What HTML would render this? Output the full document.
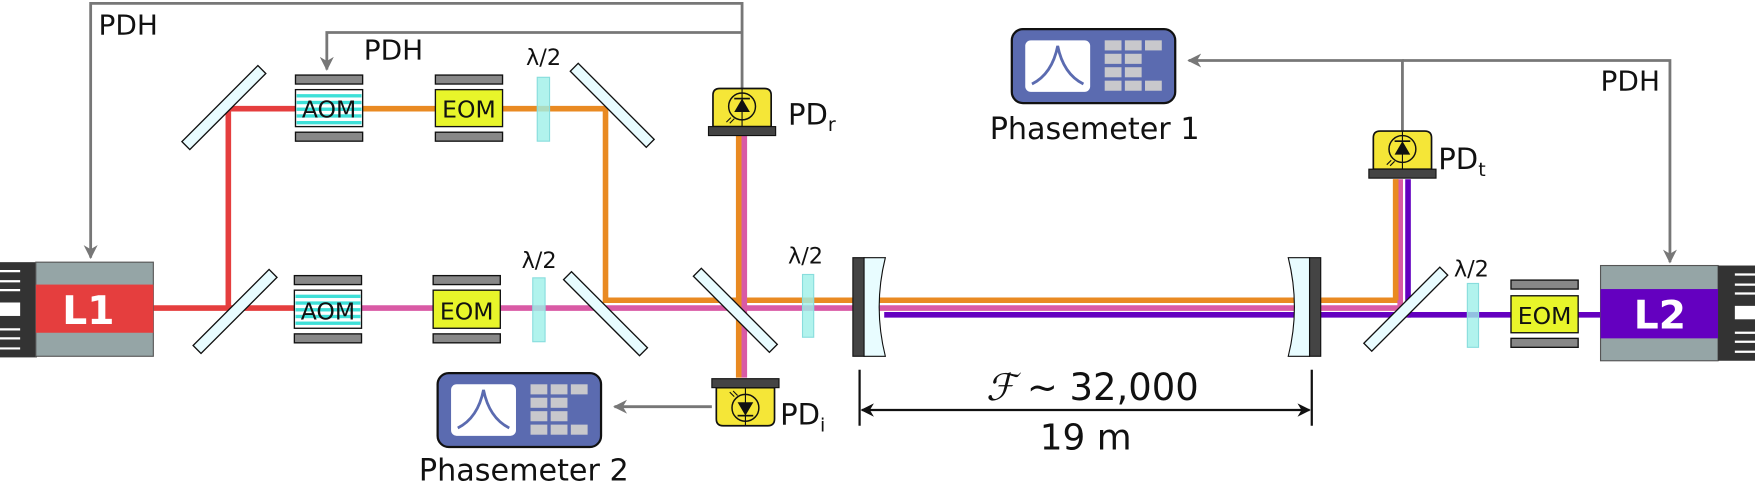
<!DOCTYPE html>
<html><head><meta charset="utf-8"><style>
html,body{margin:0;padding:0;background:#fff;}
svg{display:block;}
text{font-family:"DejaVu Sans","Liberation Sans",sans-serif;fill:#111;}
</style></head><body>
<svg width="1755" height="484" viewBox="0 0 1568 432" preserveAspectRatio="none" xmlns="http://www.w3.org/2000/svg">
<defs>
 <marker id="ah" viewBox="0 0 10 10" refX="9" refY="5" markerWidth="5" markerHeight="5" orient="auto-start-reverse"><path d="M0,0 L10,5 L0,10 L3,5 z" fill="#777"/></marker>
 <marker id="bh" viewBox="0 0 10 10" refX="9" refY="5" markerWidth="6" markerHeight="6" orient="auto-start-reverse"><path d="M0,0 L10,5 L0,10 L3,5 z" fill="#111"/></marker>
 <g id="pdup">
  <path d="M-26,34 V6 Q-26,0 -20,0 H20 Q26,0 26,6 V34 z" fill="#f5e637" stroke="#111" stroke-width="1.5"/>
  <circle cx="0" cy="16" r="12" fill="none" stroke="#111" stroke-width="1.3"/>
  <line x1="0" y1="0" x2="0" y2="34" stroke="#111" stroke-width="1"/>
  <path d="M-7,21 L7,21 L0,9 z" fill="#111"/><line x1="-7" y1="9" x2="7" y2="9" stroke="#111" stroke-width="1.5"/>
  <line x1="-14" y1="30" x2="-10" y2="26" stroke="#111"/><line x1="-11" y1="31" x2="-7" y2="27" stroke="#111"/>
  <rect x="-30" y="34" width="60" height="8" fill="#444" stroke="#111"/>
 </g>
 <g id="pm">
  <rect x="0" y="0" width="146" height="66" rx="10" fill="#5b6bb0" stroke="#111" stroke-width="2"/>
  <rect x="12" y="10" width="58" height="46" rx="5" fill="#fff"/>
  <path d="M18,49 Q36,40 41,15 Q46,40 64,49" fill="none" stroke="#5b6bb0" stroke-width="2.5"/>
  <g fill="#c8c8cc">
   <rect x="83" y="10" width="15" height="9"/><rect x="101" y="10" width="15" height="9"/><rect x="119" y="10" width="15" height="9"/>
   <rect x="83" y="22" width="15" height="9"/><rect x="101" y="22" width="15" height="9"/>
   <rect x="83" y="34" width="15" height="9"/><rect x="101" y="34" width="15" height="9"/>
   <rect x="83" y="46" width="15" height="9"/><rect x="101" y="46" width="15" height="9"/><rect x="119" y="46" width="15" height="9"/>
  </g>
 </g>
 <g id="comb">
  <rect x="0" y="0" width="33" height="85" fill="#333"/>
  <g stroke="#fff" stroke-width="2"><line x1="0" y1="8" x2="18" y2="8"/><line x1="0" y1="17" x2="18" y2="17"/><line x1="0" y1="25" x2="18" y2="25"/><line x1="0" y1="60" x2="18" y2="60"/><line x1="0" y1="68" x2="18" y2="68"/><line x1="0" y1="77" x2="18" y2="77"/></g>
  <rect x="0" y="36" width="18" height="12" fill="#fff"/>
 </g>
</defs>

<g stroke="#777" stroke-width="2.5" fill="none">
 <polyline points="663,80 663,3 81,3 81,230" marker-end="url(#ah)"/>
 <polyline points="663,29 292,29 292,62" marker-end="url(#ah)"/>
 <line x1="636" y1="363" x2="549" y2="363" marker-end="url(#ah)"/>
 <polyline points="1253,117 1253,54 1062,54" marker-end="url(#ah)"/>
 <polyline points="1253,54 1492,54 1492,234" marker-end="url(#ah)"/>
</g>
<text x="88" y="31" font-size="25">PDH</text>
<text x="325" y="53" font-size="25">PDH</text>
<text x="1430" y="81" font-size="25">PDH</text>

<g fill="none" stroke-width="5">
 <polyline points="137,275 263,275" stroke="#e53e3e"/>
 <polyline points="204,275 204,97 264,97" stroke="#e53e3e"/>
 <polyline points="324,97 541,97 541,268 1247,268 1247,160" stroke="#e98a22"/>
 <polyline points="323,275 1250,275" stroke="#d95aa5"/>
 <line x1="1251" y1="275" x2="1251" y2="160" stroke="#d95aa5"/>
 <line x1="1247" y1="268" x2="1247" y2="160" stroke="#e98a22"/>
 <polyline points="790,281 1258,281 1258,160" stroke="#6400c0"/>
 <line x1="1258" y1="281" x2="1430" y2="281" stroke="#6400c0"/>
 <line x1="660" y1="121" x2="660" y2="268" stroke="#e98a22"/>
 <line x1="665" y1="121" x2="665" y2="275" stroke="#d95aa5"/>
 <line x1="660" y1="268" x2="660" y2="337" stroke="#e98a22"/>
 <line x1="665" y1="275" x2="665" y2="337" stroke="#d95aa5"/>
</g>

<g fill="#e8fcff" stroke="#111" stroke-width="1.2">
 <rect x="-5" y="-48" width="10" height="96" transform="translate(200,96) rotate(45)"/>
 <rect x="-5" y="-48" width="10" height="96" transform="translate(210,278) rotate(45)"/>
 <rect x="-5" y="-48" width="10" height="96" transform="translate(547,94) rotate(-45)"/>
 <rect x="-5" y="-48" width="10" height="96" transform="translate(541,280) rotate(-45)"/>
 <rect x="-5" y="-48" width="10" height="96" transform="translate(657,277) rotate(-45)"/>
 <rect x="-5" y="-48" width="10" height="96" transform="translate(1256,276) rotate(45)"/>
</g>

<g fill="#9ef0e8" fill-opacity="0.8" stroke="#8dd" stroke-width="1">
 <rect x="480" y="69" width="11" height="57"/>
 <rect x="476" y="248" width="11" height="57"/>
 <rect x="717" y="245" width="10" height="56"/>
 <rect x="1311" y="253" width="10" height="57"/>
</g>
<g font-size="20"><text x="470" y="58">λ/2</text><text x="466" y="239">λ/2</text><text x="704" y="235">λ/2</text><text x="1299" y="247">λ/2</text></g>

<g stroke="#111" stroke-width="1.2">
 <rect x="264" y="67" width="60" height="8" fill="#888"/><rect x="264" y="118" width="60" height="8" fill="#888"/>
 <rect x="264" y="80" width="60" height="33" fill="#fff"/>
 <rect x="263" y="246" width="60" height="8" fill="#888"/><rect x="263" y="298" width="60" height="8" fill="#888"/>
 <rect x="263" y="259" width="60" height="34" fill="#fff"/>
</g>
<g fill="#3ee0d8">
 <rect x="265" y="84" width="58" height="3"/><rect x="265" y="90" width="58" height="3"/><rect x="265" y="96" width="58" height="3"/><rect x="265" y="102" width="58" height="3"/><rect x="265" y="108" width="58" height="3"/>
 <rect x="264" y="263" width="58" height="3"/><rect x="264" y="269" width="58" height="3"/><rect x="264" y="275" width="58" height="3"/><rect x="264" y="281" width="58" height="3"/><rect x="264" y="287" width="58" height="3"/>
</g>
<g font-size="21"><text x="294" y="105" text-anchor="middle">AOM</text><text x="293" y="285" text-anchor="middle">AOM</text></g>

<g stroke="#111" stroke-width="1.2">
 <rect x="389" y="67" width="60" height="8" fill="#888"/><rect x="389" y="118" width="60" height="8" fill="#888"/>
 <rect x="389" y="80" width="60" height="33" fill="#e8f52a"/>
 <rect x="387" y="246" width="60" height="8" fill="#888"/><rect x="387" y="298" width="60" height="8" fill="#888"/>
 <rect x="387" y="259" width="60" height="34" fill="#e8f52a"/>
 <rect x="1350" y="250" width="60" height="8" fill="#888"/><rect x="1350" y="302" width="60" height="8" fill="#888"/>
 <rect x="1350" y="264" width="60" height="33" fill="#e8f52a"/>
</g>
<g font-size="21"><text x="419" y="105" text-anchor="middle">EOM</text><text x="417" y="285" text-anchor="middle">EOM</text><text x="1380" y="289" text-anchor="middle">EOM</text></g>

<use href="#comb" x="0" y="234"/>
<rect x="32" y="234" width="105" height="84" fill="#95a5a6" stroke="#555"/>
<rect x="32" y="254" width="105" height="43" fill="#e53e3e"/>
<text x="79" y="289" font-size="35" font-weight="bold" text-anchor="middle" style="fill:#fff">L1</text>
<rect x="1430" y="237" width="105" height="85" fill="#95a5a6" stroke="#555"/>
<rect x="1430" y="258" width="105" height="44" fill="#6400c0"/>
<text x="1483" y="293" font-size="35" font-weight="bold" text-anchor="middle" style="fill:#fff">L2</text>
<g transform="translate(1568,237) scale(-1,1)"><use href="#comb"/></g>

<rect x="762" y="230" width="10" height="88" fill="#444" stroke="#111"/>
<path d="M772,230 H791 Q780,274 791,318 H772 z" fill="#e8fcff" stroke="#111"/>
<rect x="1170" y="230" width="10" height="88" fill="#444" stroke="#111"/>
<path d="M1170,230 H1151 Q1162,274 1151,318 H1170 z" fill="#e8fcff" stroke="#111"/>

<use href="#pdup" transform="translate(663,79)"/>
<use href="#pdup" transform="translate(1253,117)"/>
<use href="#pdup" transform="translate(666,380) scale(1,-1)"/>
<text x="704" y="111" font-size="26">PD<tspan font-size="17" dy="6">r</tspan></text>
<text x="1285" y="151" font-size="26">PD<tspan font-size="17" dy="6">t</tspan></text>
<text x="697" y="379" font-size="26">PD<tspan font-size="17" dy="6">i</tspan></text>

<use href="#pm" x="904" y="26"/>
<text x="978" y="124" font-size="27" text-anchor="middle">Phasemeter 1</text>
<use href="#pm" x="391" y="333"/>
<text x="468" y="429" font-size="27" text-anchor="middle">Phasemeter 2</text>

<g stroke="#111" stroke-width="2">
 <line x1="768" y1="330" x2="768" y2="380"/><line x1="1172" y1="330" x2="1172" y2="380"/>
 <line x1="770" y1="366" x2="1170" y2="366" marker-start="url(#bh)" marker-end="url(#bh)"/>
</g>
<text x="976" y="357" font-size="33" text-anchor="middle"><tspan font-family="Liberation Serif,serif" font-style="italic">ℱ</tspan> ~ 32,000</text>
<text x="970" y="401" font-size="32" text-anchor="middle">19 m</text>
</svg>
</body></html>
